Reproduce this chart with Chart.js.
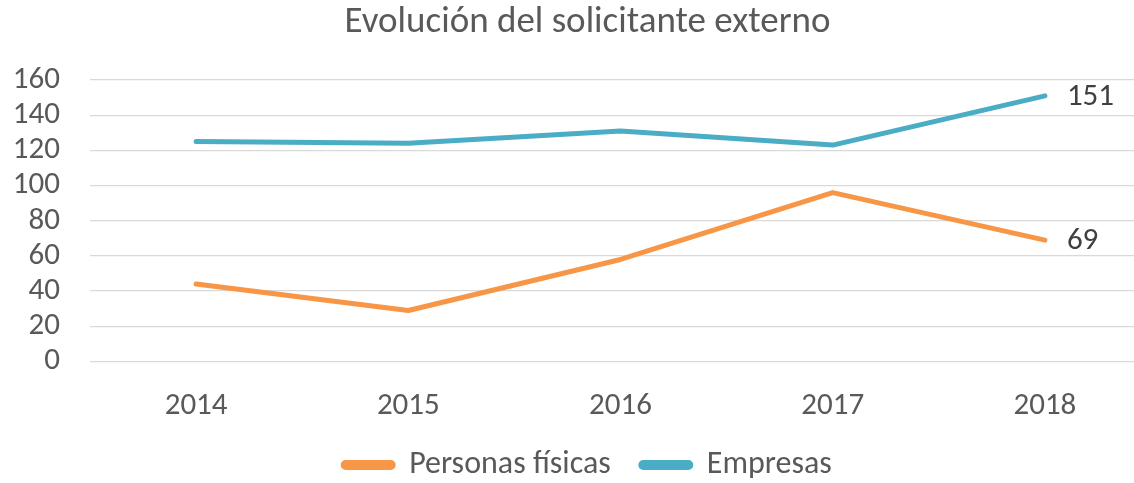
<!DOCTYPE html>
<html>
<head>
<meta charset="utf-8">
<script src="https://cdn.jsdelivr.net/npm/chart.js@4/dist/chart.umd.min.js"></script>
<style>
  html, body { margin: 0; padding: 0; background: #fff; overflow: hidden; }
  #wrap { width: 1176px; height: 483px; }
</style>
</head>
<body>
<div id="wrap"><canvas id="chart" width="1176" height="483"></canvas></div>
<script>
// chart data
const years = ['2014', '2015', '2016', '2017', '2018'];
const personasFisicas = [44, 29, 58, 96, 69];
const empresas = [125, 124, 131, 123, 151];
const yTicks = [0, 20, 40, 60, 80, 100, 120, 140, 160];

const FONT = "Carlito, Lato, 'Liberation Sans', sans-serif";
const ORANGE = '#F79646';
const BLUE = '#4BACC6';

// label only the last point of each series
const lastValueLabels = {
    id: 'lastValueLabels',
    afterDatasetsDraw(chart) {
        const ctx = chart.ctx;
        ctx.save();
        ctx.font = '31px ' + FONT;
        ctx.fillStyle = '#404040';
        ctx.textAlign = 'left';
        ctx.textBaseline = 'middle';
        chart.data.datasets.forEach((ds, i) => {
            const meta = chart.getDatasetMeta(i);
            const last = meta.data.length - 1;
            const pt = meta.data[last];
            ctx.fillText(String(ds.data[last]), pt.x + 22, pt.y + 1);
        });
        ctx.restore();
    }
};

// title and legend sit a bit right of the canvas centre in the original
const shiftHeader = {
    id: 'shiftHeader',
    afterLayout(chart) {
        [chart.titleBlock, chart.legend].forEach(box => {
            if (!box) return;
            box.left += 12;
            box.right += 12;
        });
    }
};

const ctx = document.getElementById('chart').getContext('2d');
const chart = new Chart(ctx, {
    type: 'line',
    data: {
        labels: years,
        datasets: [{
            label: 'Personas físicas',
            data: personasFisicas,
            borderColor: ORANGE,
            backgroundColor: ORANGE,
            borderWidth: 5,
            pointRadius: 0,
            borderCapStyle: 'round',
            borderJoinStyle: 'round',
            tension: 0
        }, {
            label: 'Empresas',
            data: empresas,
            borderColor: BLUE,
            backgroundColor: BLUE,
            borderWidth: 5,
            pointRadius: 0,
            borderCapStyle: 'round',
            borderJoinStyle: 'round',
            tension: 0
        }]
    },
    options: {
        responsive: false,
        animation: false,
        layout: { padding: { top: 0, left: 0, right: 25, bottom: -8 } },
        scales: {
            x: {
                offset: true,
                grid: { display: false, drawTicks: false },
                border: { display: false },
                ticks: { color: '#595959', font: { family: FONT, size: 31 }, padding: 26 },
                afterFit(scale) { scale.height = 57.5; }
            },
            y: {
                min: 0,
                max: 160,
                afterBuildTicks(scale) { scale.ticks = yTicks.map(v => ({ value: v })); },
                grid: { color: '#D9D9D9', lineWidth: 1.3, drawTicks: false },
                border: { display: false },
                ticks: { color: '#595959', font: { family: FONT, size: 31 }, padding: 30, autoSkip: false },
                afterFit(scale) { scale.width = 90; }
            }
        },
        plugins: {
            title: {
                display: true,
                text: 'Evolución del solicitante externo',
                color: '#595959',
                font: { family: FONT, size: 37, weight: 'normal' },
                padding: { top: 1, bottom: 34.6 }
            },
            legend: {
                display: true,
                position: 'bottom',
                labels: {
                    color: '#595959',
                    font: { family: FONT, size: 32 },
                    boxWidth: 50,
                    boxHeight: 5,
                    useBorderRadius: true,
                    borderRadius: 2.5,
                    padding: 30
                }
            },
            tooltip: { enabled: false }
        }
    },
    plugins: [lastValueLabels, shiftHeader]
});
</script>
</body>
</html>
